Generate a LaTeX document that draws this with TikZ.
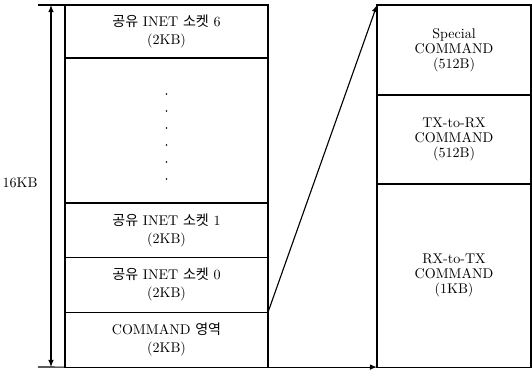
\documentclass[tikz,border=0pt]{standalone}
\usepackage{fontspec}
\newfontfamily\kr{Noto Sans CJK KR}
\usetikzlibrary{calc, positioning, arrows.meta}

\tikzset{
	slot/.style = {draw, line width=0.8pt, outer sep=0pt, inner sep=1pt, align=center,
		font=\fontsize{10}{12.8}\selectfont},
	cmdslot/.style = {slot, minimum width=3.85cm, font=\fontsize{10}{10.7}\selectfont},
	memslot/.style = {slot, minimum width=5.075cm},
	link/.style = {line width=0.8pt, -{Latex[length=5pt, width=4pt]}},
}

\begin{document}
\begin{tikzpicture}[x=0.025cm, y=0.025cm]
				\useasboundingbox (0,0) rectangle (532,370);

				% left: 16KB memory map
				\node [memslot, minimum height=1.325cm, anchor=north west] (sock6) at (65,365) {{\kr 공유} INET {\kr 소켓} 6\\(2KB)};
				\node [memslot, minimum height=3.625cm, below=0pt of sock6] (dots) {};
				\node [memslot, minimum height=1.35cm, below=0pt of dots] (sock1) {{\kr 공유} INET {\kr 소켓} 1\\(2KB)};
				\node [memslot, minimum height=1.375cm, below=0pt of sock1] (sock0) {{\kr 공유} INET {\kr 소켓} 0\\(2KB)};
				\node [memslot, minimum height=1.375cm, below=0pt of sock0] (cmd) {COMMAND {\kr 영역}\\(2KB)};

				\foreach \i in {0,...,5}
					\fill ($(dots.north)+(0,-36-17*\i)$) circle (0.6pt);

				% size marker
				\coordinate (tl) at (38,365);
				\coordinate (bl) at (38,3);
				\coordinate (atop) at (51,365);
				\coordinate (abot) at (51,3);
				\draw [line width=0.8pt] (tl) -- (sock6.north west);
				\draw [line width=0.8pt] (bl) -- (cmd.south west);
				\draw [line width=0.8pt, {Latex[length=5pt, width=4pt]}-{Latex[length=5pt, width=4pt]}] (atop) -- (abot);
				\node [font=\fontsize{10}{11}\selectfont] (size) at (20,187) {16KB};

				% right: COMMAND area detail
				\node [cmdslot, minimum height=2.25cm, anchor=north west] (special) at (377,365) {Special\\COMMAND\\(512B)};
				\node [cmdslot, minimum height=2.225cm, below=0pt of special] (txrx) {TX-to-RX\\COMMAND\\(512B)};
				\node [cmdslot, minimum height=4.575cm, below=0pt of txrx] (rxtx) {RX-to-TX\\COMMAND\\(1KB)};

				\draw [link] (cmd.north east) -- (special.north west);
				\draw [link] (cmd.south east) -- (rxtx.south west);
			\end{tikzpicture}
\end{document}
